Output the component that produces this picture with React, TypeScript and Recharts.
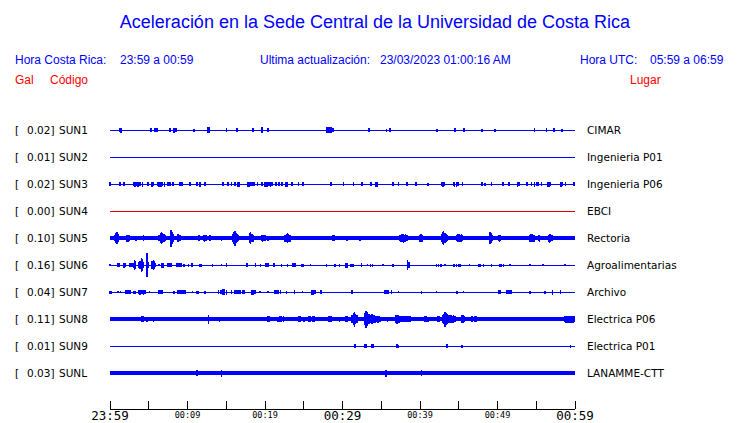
import { ComposedChart, Scatter, ErrorBar, XAxis, YAxis, ReferenceLine } from "recharts";

// station rows, top to bottom
const stations = ["SUN1", "SUN2", "SUN3", "SUN4", "SUN5", "SUN6", "SUN7", "SUN8", "SUN9", "SUNL"];
const peakGal = ["0.02", "0.01", "0.02", "0.00", "0.10", "0.16", "0.04", "0.11", "0.01", "0.03"];
const places = [
  "CIMAR",
  "Ingenieria P01",
  "Ingenieria P06",
  "EBCI",
  "Rectoria",
  "Agroalimentarias",
  "Archivo",
  "Electrica P06",
  "Electrica P01",
  "LANAMME-CTT",
];

// time axis: minutes after 23:59
const timeTicks = [0, 5, 10, 15, 20, 25, 30, 35, 40, 45, 50, 55, 60];
const timeLabels = ["23:59", "00:09", "00:19", "00:29", "00:39", "00:49", "00:59"];

// [minute, half amplitude] of the visible bursts on each trace
const sun1: [number, number][] = [
  [1.2, 2], [1.45, 2.5], [5.3, 2], [5.8, 2], [6.05, 2], [7.75, 2], [8.25, 2.5], [8.5, 2],
  [10.85, 1.5], [12.65, 3], [12.8, 3], [15.0, 2], [16.4, 2], [18.45, 2], [19.55, 3], [19.7, 3],
  [20.4, 2], [27.95, 3], [28.1, 3], [28.25, 3], [28.4, 3], [28.55, 3], [28.8, 2], [33.45, 2],
  [35.7, 1.5], [36.1, 2], [42.2, 1.5], [44.5, 2], [45.7, 2], [48.0, 1.5], [49.7, 1.5],
  [54.8, 2], [56.35, 2], [57.3, 2], [58.35, 1.5],
];
const sun2: [number, number][] = [];
const sun3: [number, number][] = [
  [0.0, 2], [1.2, 2], [1.35, 2], [1.8, 2], [3.0, 2], [3.15, 2.5], [3.3, 2.5], [3.45, 2],
  [3.6, 2.5], [3.75, 2], [3.9, 2], [4.2, 2.5], [4.9, 2], [5.4, 2.5], [5.55, 2], [6.1, 2],
  [6.25, 2.5], [6.4, 2.5], [6.55, 2.5], [6.7, 2], [7.0, 2.5], [7.5, 2], [7.75, 2], [8.1, 2],
  [9.0, 2], [9.3, 2], [10.3, 2], [11.2, 2], [11.6, 2.5], [12.25, 2], [14.6, 2], [15.2, 2],
  [15.7, 2], [16.1, 2], [16.5, 2.5], [16.7, 2.5], [17.8, 2.5], [17.95, 2.5], [18.1, 2],
  [18.3, 2], [18.6, 2], [19.0, 2], [19.6, 2], [20.0, 2.5], [20.15, 2.5], [20.3, 2.5],
  [20.5, 2], [20.7, 2.5], [20.9, 2], [21.4, 2], [21.8, 2], [22.2, 2], [22.7, 2.5],
  [22.85, 2.5], [23.5, 2], [24.3, 2], [24.9, 2], [28.5, 2], [30.1, 2], [31.4, 2], [32.5, 2],
  [33.7, 2], [34.3, 2.5], [34.5, 2.5], [36.5, 2], [37.2, 2], [38.3, 2], [39.5, 2], [41.0, 1.5],
  [42.8, 2], [42.95, 2.5], [43.1, 2], [44.3, 2], [44.45, 2.5], [44.7, 2.5], [44.9, 2],
  [45.5, 2], [48.0, 2], [48.4, 1.5], [49.2, 2], [50.7, 2], [51.5, 2], [52.6, 2.5], [52.8, 2],
  [53.8, 2], [54.4, 2], [54.8, 2.5], [55.0, 2], [55.2, 2], [55.7, 2], [56.5, 2.5],
  [56.65, 2.5], [56.85, 2], [58.1, 2.5], [58.25, 2.5], [58.4, 2], [58.8, 2], [59.9, 2],
];
const sun4: [number, number][] = [];
const sun5: [number, number][] = [
  [0.6, 3], [0.75, 5], [0.9, 6], [1.05, 4], [2.15, 3.5], [2.3, 3.5], [2.45, 3], [3.35, 2.5],
  [4.3, 3], [6.35, 3], [6.5, 5], [6.65, 6], [6.8, 5], [6.95, 4], [7.1, 3], [7.85, 8.5],
  [8.0, 6], [8.15, 4], [8.8, 4], [8.95, 3], [9.1, 3], [11.4, 3], [11.55, 3], [12.05, 3],
  [12.2, 3.5], [12.4, 3], [12.9, 3], [14.4, 2.5], [15.85, 4], [16.0, 6], [16.15, 7.5],
  [16.3, 5], [16.45, 4], [16.6, 3], [18.0, 5], [18.15, 6], [18.3, 4], [18.45, 3.5],
  [19.55, 3], [19.7, 3.5], [19.85, 3], [20.0, 3], [20.4, 2.5], [22.6, 3.5], [22.75, 4],
  [22.9, 5], [23.05, 4], [23.2, 3.5], [28.75, 3], [28.9, 3], [30.55, 2.5], [32.25, 2.5],
  [37.4, 3], [37.55, 3.5], [37.7, 4], [37.85, 4.5], [38.0, 3.5], [38.15, 4], [38.3, 3],
  [40.0, 3.5], [40.15, 4], [40.3, 3.5], [42.75, 4], [42.9, 6], [43.05, 7], [43.2, 5],
  [43.35, 4], [43.5, 3], [44.75, 3], [44.9, 4], [45.05, 4], [45.2, 3.5], [45.35, 4],
  [45.5, 3], [49.05, 6], [49.2, 5], [49.35, 3], [50.1, 3], [50.25, 3.5], [50.4, 3],
  [54.2, 3.5], [54.35, 4], [54.5, 4], [54.65, 3.5], [54.8, 3.5], [55.3, 3], [55.45, 3.5],
  [56.55, 3.5], [56.7, 4.5], [56.85, 4], [57.0, 3],
];
const sun6: [number, number][] = [
  [0.0, 1], [0.95, 2], [1.1, 2], [1.25, 2], [1.8, 2.5], [1.95, 2], [2.5, 2], [2.65, 2],
  [2.85, 2], [3.0, 2.5], [3.15, 5], [3.3, 4], [3.75, 3], [3.9, 4], [4.05, 7], [4.2, 6],
  [4.35, 3], [4.8, 12], [4.95, 3], [5.45, 4], [5.6, 5], [5.75, 4], [5.9, 2], [6.3, 1],
  [6.7, 2.5], [6.85, 2.5], [7.4, 2], [7.55, 2], [7.7, 2], [7.85, 2], [8.6, 2], [8.75, 2],
  [8.9, 2], [9.05, 2], [9.2, 2], [9.55, 1.5], [10.1, 1.5], [10.6, 2], [11.6, 1.5],
  [11.75, 1.5], [13.25, 1.5], [14.4, 1], [15.05, 2], [17.7, 2], [18.75, 2], [19.45, 1.5],
  [20.1, 2], [20.25, 2], [20.4, 2], [21.15, 2], [22.15, 1.5], [22.9, 1.5], [23.55, 2],
  [23.7, 2], [23.85, 2], [24.75, 1.5], [24.9, 1.5], [25.9, 1], [27.95, 1.5], [29.0, 1.5],
  [29.6, 1.5], [30.45, 2.5], [30.6, 2.5], [31.0, 1.5], [31.2, 1.5], [31.45, 1.5], [32.45, 2],
  [33.2, 1], [33.6, 1.5], [33.85, 1.5], [35.2, 1], [36.5, 1.5], [38.4, 5], [38.55, 3],
  [42.1, 1.5], [42.4, 1.5], [42.7, 1.5], [43.2, 1], [44.4, 1.5], [44.7, 1.5], [45.0, 1.5],
  [45.2, 1.5], [46.4, 1], [47.6, 1.5], [47.8, 1.5], [48.2, 1.5], [49.25, 1.5], [50.3, 1.5],
  [50.5, 1.5], [50.8, 1.5], [51.6, 1], [54.2, 1], [55.9, 1], [58.7, 1],
];
const sun7: [number, number][] = [
  [0.0, 1.5], [0.2, 1.5], [1.05, 1], [1.35, 1], [2.05, 2], [2.2, 2], [2.4, 2], [2.55, 2],
  [3.0, 1.5], [3.2, 1.5], [3.65, 2], [3.8, 2.5], [3.95, 2.5], [4.1, 2], [4.3, 2.5], [4.5, 2],
  [5.1, 1], [6.25, 2], [6.4, 2], [6.6, 2], [6.8, 2], [8.25, 1.5], [8.7, 2], [8.85, 2],
  [9.0, 2], [9.2, 2], [9.45, 2], [9.65, 2], [10.65, 1], [11.2, 1.5], [11.4, 1.5],
  [12.25, 1.5], [14.0, 2], [14.3, 2], [14.6, 3], [14.8, 3], [15.0, 2.5], [15.7, 2],
  [16.1, 2], [16.3, 2], [16.5, 2], [16.75, 2], [17.1, 2], [17.3, 2], [18.3, 2.5], [18.5, 2.5],
  [18.7, 2], [19.35, 1], [20.4, 1], [21.3, 2], [21.5, 2], [21.7, 2], [22.0, 2], [22.8, 1.5],
  [23.8, 2], [24.85, 1], [26.0, 2.5], [26.2, 2.5], [26.45, 2], [27.2, 2], [31.2, 2],
  [35.5, 2], [35.7, 2], [35.9, 2], [36.3, 2], [37.2, 1], [40.2, 1.5], [42.15, 1],
  [44.75, 1.5], [45.6, 1], [50.1, 2], [50.3, 2], [51.2, 2], [51.4, 2], [51.6, 2], [51.8, 2],
  [54.2, 1.5], [56.15, 1.5], [57.1, 2.5], [58.1, 2],
];
const sun8: [number, number][] = [
  [4.1, 3], [4.3, 3], [4.75, 2.5], [5.6, 2.5], [12.7, 4.5], [14.1, 2.5], [20.4, 3], [20.6, 3],
  [21.65, 2.5], [21.95, 3], [22.15, 3], [22.4, 3], [24.3, 3], [24.5, 3], [25.0, 2.5],
  [25.7, 3], [25.9, 3], [26.2, 3], [26.4, 3], [28.2, 3], [28.4, 3], [28.6, 3], [29.6, 2.5],
  [30.4, 3], [30.6, 3], [31.25, 4], [31.4, 6], [31.55, 7.5], [31.7, 5], [31.85, 4],
  [32.9, 6], [33.05, 8.5], [33.2, 7], [33.35, 5], [33.5, 5], [33.65, 4], [33.8, 5],
  [33.95, 4], [34.1, 4], [34.25, 3.5], [34.4, 3], [34.55, 3.5], [34.7, 3], [34.85, 2.5],
  [35.8, 2.5], [36.9, 4], [37.05, 4.5], [37.2, 4], [37.35, 3.5], [37.5, 3], [37.65, 3],
  [37.95, 3], [38.15, 3], [38.35, 3], [38.55, 3], [38.75, 3], [40.65, 3], [40.85, 3],
  [41.05, 2.5], [42.25, 3], [42.45, 3], [42.95, 4], [43.1, 5], [43.25, 7.5], [43.4, 6],
  [43.55, 5], [43.7, 4], [43.85, 4], [44.0, 4], [44.15, 3.5], [44.3, 4], [44.45, 3],
  [44.6, 3], [45.4, 4], [45.55, 4], [45.7, 3], [46.7, 3], [47.1, 3], [47.3, 3], [58.7, 3],
  [58.85, 3.5], [59.0, 3.5], [59.15, 3.5], [59.3, 3.5], [59.45, 3.5], [59.6, 3.5],
  [59.75, 3.5], [59.9, 3],
];
const sun9: [number, number][] = [
  [31.6, 2], [32.9, 2], [33.05, 2], [33.8, 2], [34.0, 2], [37.05, 2], [37.25, 1.5],
  [43.4, 2], [43.55, 2], [45.4, 1.5], [59.45, 1.5],
];
const sunl: [number, number][] = [[11.25, 3], [14.4, 3.5], [35.6, 3.5], [40.2, 3]];

const traces = [sun1, sun2, sun3, sun4, sun5, sun6, sun7, sun8, sun9, sunl];

// per-trace look
const traceWidth = [1, 1, 1, 1, 4, 1, 1, 4, 1, 4];
const traceColor = ["#0000ff", "#0000ff", "#0000ff", "#e00000", "#0000ff", "#0000ff", "#0000ff", "#0000ff", "#0000ff", "#0000ff"];

const W = 740;
const H = 423;
const ROW_GAP = 27;
const BOTTOM_PAD = 36;
const Y_MAX = 306;
const rowY = (i: number) => BOTTOM_PAD + (stations.length - 1 - i) * ROW_GAP;
const rowTicks = stations.map((_, i) => rowY(i));
const rowOf = (v: number) => rowTicks.indexOf(v);

const BLUE = "#0000ff";
const RED = "#ff0000";

const LeftTick = (props: any) => {
  const { x, y, payload } = props;
  const i = rowOf(payload.value);
  if (i < 0) return null;
  return (
    <text y={y} dy={4} fontFamily="DejaVu Sans" fontSize={10.5} fill="#000">
      <tspan x={x - 95}>[</tspan>
      <tspan x={x - 83}>{peakGal[i] + "]"}</tspan>
      <tspan x={x - 51}>{stations[i]}</tspan>
    </text>
  );
};

const RightTick = (props: any) => {
  const { x, y, payload } = props;
  const i = rowOf(payload.value);
  if (i < 0) return null;
  return (
    <text x={x + 12} y={y} dy={4} fontFamily="DejaVu Sans" fontSize={10.5} fill="#000">
      {places[i]}
    </text>
  );
};

const TimeTick = (props: any) => {
  const { x, y, payload } = props;
  const k = Math.round(payload.value / 5);
  const label = k % 2 === 0 ? timeLabels[k / 2] : "";
  const big = k % 6 === 0;
  return (
    <g>
      <line x1={x} x2={x} y1={y} y2={y - 8} stroke="#000" strokeWidth={1} shapeRendering="crispEdges" />
      {label && (
        <text
          x={x}
          y={big ? y + 11 : y + 8.5}
          textAnchor="middle"
          fontFamily="DejaVu Sans Mono"
          fontSize={big ? 12.5 : 8.5}
          fill="#000"
        >
          {label}
        </text>
      )}
    </g>
  );
};

const Dot = () => <g />;

const txt = (left: number, top: number, color: string, s: string, size = 12) => (
  <div
    style={{
      position: "absolute",
      left,
      top,
      color,
      fontSize: size,
      lineHeight: `${size + 2}px`,
      whiteSpace: "pre",
      fontFamily: "'Liberation Sans', Arial, sans-serif",
    }}
  >
    {s}
  </div>
);

export default function App() {
  return (
    <div style={{ position: "absolute", left: 0, top: 0, width: W, height: H, background: "#fff" }}>
      <ComposedChart width={W} height={H} margin={{ top: H - 14 - Y_MAX, right: 10, bottom: 0, left: 10 }}>
        <XAxis
          xAxisId="t"
          type="number"
          dataKey="t"
          domain={[0, 60]}
          ticks={timeTicks}
          interval={0}
          height={14}
          tickSize={0}
          tickMargin={0}
          tickLine={false}
          axisLine={{ stroke: "#000", strokeWidth: 1, shapeRendering: "crispEdges" }}
          tick={<TimeTick />}
          allowDataOverflow
        />
        <YAxis
          yAxisId="l"
          type="number"
          dataKey="y"
          domain={[0, Y_MAX]}
          ticks={rowTicks}
          interval={0}
          width={100}
          axisLine={false}
          tickLine={false}
          tickSize={0}
          tickMargin={0}
          tick={<LeftTick />}
          allowDataOverflow
        />
        <YAxis
          yAxisId="r"
          orientation="right"
          type="number"
          domain={[0, Y_MAX]}
          ticks={rowTicks}
          interval={0}
          width={155}
          axisLine={false}
          tickLine={false}
          tickSize={0}
          tickMargin={0}
          tick={<RightTick />}
          allowDataOverflow
        />
        {stations.map((s, i) => (
          <ReferenceLine
            key={"base-" + s}
            xAxisId="t"
            yAxisId="l"
            y={rowY(i)}
            stroke={traceColor[i]}
            strokeWidth={traceWidth[i]}
            shapeRendering="crispEdges"
          />
        ))}
        {traces.map((tr, i) =>
          tr.length ? (
            <Scatter
              key={"sp-" + stations[i]}
              xAxisId="t"
              yAxisId="l"
              data={tr.map(([t, a]) => ({ t, y: rowY(i), amp: a }))}
              shape={<Dot />}
              isAnimationActive={false}
            >
              <ErrorBar
                dataKey="amp"
                direction="y"
                width={0}
                stroke={traceColor[i]}
                strokeWidth={1.5}
                shapeRendering="crispEdges"
              />
            </Scatter>
          ) : null
        )}
      </ComposedChart>
      <div
        style={{
          position: "absolute",
          left: 5,
          top: 11,
          width: W,
          textAlign: "center",
          color: BLUE,
          fontSize: 18,
          lineHeight: "22px",
          fontFamily: "'Liberation Sans', Arial, sans-serif",
        }}
      >
        Aceleración en la Sede Central de la Universidad de Costa Rica
      </div>
      {txt(15, 53, BLUE, "Hora Costa Rica:")}
      {txt(120, 53, BLUE, "23:59 a 00:59")}
      {txt(260, 53, BLUE, "Ultima actualización:")}
      {txt(380, 53, BLUE, "23/03/2023 01:00:16 AM")}
      {txt(580, 53, BLUE, "Hora UTC:")}
      {txt(650, 53, BLUE, "05:59 a 06:59")}
      {txt(15, 73, RED, "Gal")}
      {txt(50, 73, RED, "Código")}
      {txt(630, 73, RED, "Lugar")}
    </div>
  );
}
